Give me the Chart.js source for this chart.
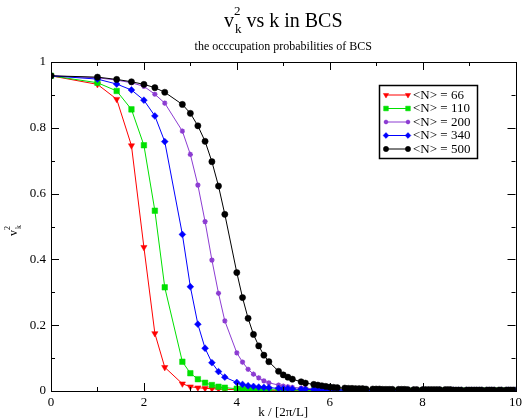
<!DOCTYPE html>
<html>
<head>
<meta charset="utf-8">
<script src="https://cdn.jsdelivr.net/npm/chart.js@4/dist/chart.umd.min.js"></script>
<style>
body{margin:0;background:#fff}
#wrap{width:526px;height:420px}
</style>
</head>
<body>
<div id="wrap"><canvas id="bcs" width="526" height="420"></canvas></div>
<script>
// k values (sqrt of n = nx^2+ny^2+nz^2), in units of 2pi/L
const kValues = [0, 1, 1.414, 1.732, 2, 2.236, 2.449, 2.828, 3, 3.162,
3.317, 3.464, 3.606, 3.742, 4, 4.123, 4.243, 4.359, 4.472, 4.583,
4.690, 4.899, 5, 5.099, 5.196, 5.385, 5.477, 5.657, 5.745, 5.831,
5.916, 6, 6.083, 6.164, 6.325, 6.403, 6.481, 6.557, 6.633, 6.708,
6.782, 6.928, 7, 7.071, 7.141, 7.211, 7.280, 7.348, 7.483, 7.550,
7.616, 7.681, 7.810, 7.874, 8, 8.062, 8.124, 8.185, 8.246, 8.307,
8.367, 8.485, 8.544, 8.602, 8.660, 8.718, 8.775, 8.832, 8.944, 9,
9.055, 9.110, 9.165, 9.220, 9.274, 9.381, 9.434, 9.487, 9.539, 9.644,
9.695, 9.798, 9.849, 9.899, 9.950, 10]

const v2_66 = [0.958, 0.932, 0.887, 0.746, 0.437, 0.175, 0.072, 0.022, 0.013, 0.010,
0.008, 0.007, 0.006, 0.005, 0.004, 0.004, 0.003, 0.003, 0.003, 0.003,
0.002, 0.002, 0.002, 0.002, 0.002, 0.002, 0.002, 0.002, 0.002, 0.001,
0.001, 0.001, 0.001, 0.001, 0.001, 0.001, 0.001, 0.001, 0.001, 0.001,
0.001, 0.001, 0.001, 0.001, 0.001, 0.001, 0.001, 0.001, 0.001, 0.001,
0.001, 0.001, 0.001, 0.001, 0.001, 0.001, 0.001, 0.001, 0.001, 0.001,
0.001, 0.001, 0.001, 0.001, 0.001, 0.001, 0.001, 0.001, 0.001, 0.001,
0.001, 0.001, 0.001, 0.001, 0.001, 0.001, 0.001, 0.001, 0.001, 0.001,
0.001, 0.001, 0.001, 0.001, 0.001, 0.001]

const v2_110 = [0.958, 0.937, 0.912, 0.856, 0.747, 0.548, 0.315, 0.089, 0.054, 0.036,
0.025, 0.018, 0.013, 0.010, 0.007, 0.006, 0.005, 0.005, 0.004, 0.004,
0.004, 0.003, 0.003, 0.003, 0.003, 0.002, 0.002, 0.002, 0.002, 0.002,
0.002, 0.002, 0.002, 0.002, 0.002, 0.002, 0.001, 0.001, 0.001, 0.001,
0.001, 0.001, 0.001, 0.001, 0.001, 0.001, 0.001, 0.001, 0.001, 0.001,
0.001, 0.001, 0.001, 0.001, 0.001, 0.001, 0.001, 0.001, 0.001, 0.001,
0.001, 0.001, 0.001, 0.001, 0.001, 0.001, 0.001, 0.001, 0.001, 0.001,
0.001, 0.001, 0.001, 0.001, 0.001, 0.001, 0.001, 0.001, 0.001, 0.001,
0.001, 0.001, 0.001, 0.001, 0.001, 0.001]

const v2_200 = [0.958, 0.952, 0.945, 0.937, 0.926, 0.902, 0.875, 0.790, 0.719, 0.626,
0.515, 0.398, 0.297, 0.213, 0.116, 0.088, 0.066, 0.051, 0.040, 0.031,
0.025, 0.018, 0.015, 0.013, 0.011, 0.009, 0.008, 0.007, 0.006, 0.006,
0.005, 0.005, 0.005, 0.004, 0.004, 0.004, 0.004, 0.004, 0.003, 0.003,
0.003, 0.003, 0.003, 0.003, 0.003, 0.003, 0.003, 0.003, 0.003, 0.003,
0.003, 0.003, 0.002, 0.002, 0.002, 0.002, 0.002, 0.002, 0.002, 0.002,
0.002, 0.002, 0.002, 0.002, 0.002, 0.002, 0.002, 0.002, 0.002, 0.002,
0.002, 0.002, 0.002, 0.002, 0.002, 0.002, 0.002, 0.002, 0.002, 0.002,
0.002, 0.002, 0.002, 0.002, 0.002, 0.002]

const v2_340 = [0.958, 0.948, 0.933, 0.915, 0.884, 0.836, 0.758, 0.476, 0.317, 0.203,
0.130, 0.086, 0.059, 0.042, 0.026, 0.020, 0.016, 0.014, 0.012, 0.011,
0.010, 0.008, 0.007, 0.007, 0.006, 0.005, 0.005, 0.004, 0.004, 0.004,
0.004, 0.003, 0.003, 0.003, 0.003, 0.003, 0.003, 0.003, 0.003, 0.003,
0.003, 0.003, 0.002, 0.002, 0.002, 0.002, 0.002, 0.002, 0.002, 0.002,
0.002, 0.002, 0.002, 0.002, 0.002, 0.002, 0.002, 0.002, 0.002, 0.002,
0.002, 0.002, 0.002, 0.002, 0.002, 0.002, 0.002, 0.002, 0.002, 0.002,
0.002, 0.002, 0.002, 0.002, 0.002, 0.002, 0.002, 0.002, 0.002, 0.002,
0.002, 0.002, 0.002, 0.002, 0.002, 0.002]

const v2_500 = [0.958, 0.954, 0.947, 0.940, 0.932, 0.922, 0.908, 0.871, 0.844, 0.806,
0.759, 0.697, 0.623, 0.537, 0.360, 0.284, 0.221, 0.172, 0.137, 0.109,
0.089, 0.060, 0.049, 0.042, 0.036, 0.028, 0.024, 0.020, 0.018, 0.016,
0.014, 0.012, 0.011, 0.010, 0.009, 0.008, 0.008, 0.007, 0.007, 0.007,
0.006, 0.006, 0.006, 0.006, 0.005, 0.005, 0.005, 0.005, 0.005, 0.005,
0.005, 0.004, 0.004, 0.004, 0.004, 0.004, 0.004, 0.004, 0.004, 0.004,
0.004, 0.004, 0.004, 0.004, 0.003, 0.003, 0.003, 0.003, 0.003, 0.003,
0.003, 0.003, 0.003, 0.003, 0.003, 0.003, 0.003, 0.003, 0.003, 0.003,
0.003, 0.003, 0.003, 0.003, 0.003, 0.003]

const seriesLabels = ["<N> = 66", "<N> = 110", "<N> = 200", "<N> = 340", "<N> = 500"]
const seriesData = [v2_66, v2_110, v2_200, v2_340, v2_500]
const xTicks = [0, 2, 4, 6, 8, 10]
const yTicks = [0, 0.2, 0.4, 0.6, 0.8, 1]

// styles
const colors = ["#ff0000", "#00e000", "#8c3cd2", "#0000ff", "#000000"]
const shapes = ["triangle", "rect", "star", "rectRot", "circle"]
const rotations = [180, 0, 0, 0, 0]
const radii = [3.6, 3.9, 2.6, 3.4, 3.1]
const borders = [0.5, 0.5, 1.4, 0.5, 0.5]
const serif = "'Liberation Serif', 'DejaVu Serif', serif"

function toPoints(arr){
  return arr.map((v,i)=>({x:kValues[i], y:v}))
}

let datasets = seriesData.map((arr,i)=>({
  label: seriesLabels[i],
  data: toPoints(arr),
  borderColor: colors[i],
  backgroundColor: colors[i],
  borderWidth: 1,
  pointStyle: shapes[i],
  pointRotation: rotations[i],
  pointRadius: radii[i],
  pointBorderWidth: borders[i],
  order: 4 - i
}))

// draw a text with stacked superscript / subscript, returns width
function supSub(ctx, x, y, base, sup, sub, big, small, up, down){
  ctx.font = big + "px " + serif
  ctx.fillText(base, x, y)
  let w = ctx.measureText(base).width
  ctx.font = small + "px " + serif
  ctx.fillText(sup, x + w, y - up)
  ctx.fillText(sub, x + w + 1, y + down)
  let w2 = Math.max(ctx.measureText(sup).width, ctx.measureText(sub).width + 1)
  return w + w2
}

function marker(ctx, i, x, y){
  ctx.fillStyle = colors[i]
  ctx.strokeStyle = colors[i]
  ctx.lineWidth = borders[i]
  if (Chart.helpers && Chart.helpers.drawPoint) {
    Chart.helpers.drawPoint(ctx, {pointStyle: shapes[i], rotation: rotations[i], radius: radii[i] * 0.85, borderWidth: borders[i]}, x, y)
  } else {
    ctx.beginPath(); ctx.arc(x, y, 2.5, 0, Math.PI*2); ctx.fill()
  }
}

const decorations = {
  id: "decorations",
  afterDraw(chart){
    const ctx = chart.ctx
    const a = chart.chartArea
    const xs = chart.scales.x
    const ys = chart.scales.y
    ctx.save()
    ctx.strokeStyle = "#000"
    ctx.lineWidth = 1
    // frame
    ctx.strokeRect(Math.round(a.left)+0.5, Math.round(a.top)+0.5, Math.round(a.right-a.left), Math.round(a.bottom-a.top))
    // inward ticks
    ctx.beginPath()
    for (let k=0; k<=10; k++){
      let px = Math.round(xs.getPixelForValue(k)) + 0.5
      let len = k%2==0 ? 8 : 4
      ctx.moveTo(px, a.bottom); ctx.lineTo(px, a.bottom - len)
      ctx.moveTo(px, a.top); ctx.lineTo(px, a.top + len)
    }
    for (let j=0; j<=10; j++){
      let py = Math.round(ys.getPixelForValue(j/10)) + 0.5
      let len = j%2==0 ? 8 : 4
      ctx.moveTo(a.left, py); ctx.lineTo(a.left + len, py)
      ctx.moveTo(a.right, py); ctx.lineTo(a.right - len, py)
    }
    ctx.stroke()

    // title
    ctx.fillStyle = "#000"
    ctx.textBaseline = "alphabetic"
    ctx.textAlign = "left"
    ctx.font = "20px " + serif
    let wv = ctx.measureText("v").width
    let wrest = ctx.measureText(" vs k in BCS").width
    ctx.font = "13px " + serif
    let wsup = ctx.measureText("k").width + 1
    let total = wv + wsup + wrest
    let cx = (a.left + a.right) / 2
    let tx = cx - total / 2
    let w = supSub(ctx, tx, 27, "v", "2", "k", 20, 13, 12, 6)
    ctx.font = "20px " + serif
    ctx.fillText(" vs k in BCS", tx + w, 27)

    // subtitle
    ctx.textAlign = "center"
    ctx.font = "12px " + serif
    ctx.fillText("the occcupation probabilities of BCS", cx, 50)

    // y axis title
    ctx.save()
    ctx.translate(17, 236)
    ctx.rotate(-Math.PI/2)
    ctx.textAlign = "left"
    supSub(ctx, 0, 0, "v", "2", "k", 12, 8, 7, 4)
    ctx.restore()

    // legend
    const lx = 379.5, ly = 85.5, lw = 98, lh = 73
    ctx.fillStyle = "#fff"
    ctx.fillRect(lx, ly, lw, lh)
    ctx.strokeStyle = "#000"
    ctx.lineWidth = 1.5
    ctx.strokeRect(lx, ly, lw, lh)
    ctx.textAlign = "left"
    ctx.textBaseline = "middle"
    for (let i=0; i<seriesLabels.length; i++){
      let ry = 95 + i * 13.5
      ctx.strokeStyle = colors[i]
      ctx.lineWidth = 1
      ctx.beginPath(); ctx.moveTo(386, ry); ctx.lineTo(408, ry); ctx.stroke()
      marker(ctx, i, 386, ry)
      marker(ctx, i, 408, ry)
      ctx.fillStyle = "#000"
      ctx.font = "13px " + serif
      ctx.fillText(seriesLabels[i], 413, ry + 0.5)
    }
    ctx.restore()
  }
}

new Chart(document.getElementById("bcs"), {
  type: "line",
  data: { datasets: datasets },
  options: {
    responsive: false,
    animation: false,
    layout: { padding: { top: 62, right: 5, left: 0, bottom: 0 } },
    plugins: { legend: { display: false }, title: { display: false }, tooltip: { enabled: false } },
    elements: { line: { tension: 0 } },
    scales: {
      x: {
        type: "linear",
        min: 0, max: 10,
        afterBuildTicks: s => { s.ticks = xTicks.map(v => ({value: v})) },
        afterFit: s => { s.height = 29 },
        grid: { display: false, drawTicks: false },
        border: { display: false },
        ticks: { color: "#000", font: { family: serif, size: 13 }, padding: 4, maxRotation: 0, autoSkip: false,
          callback: v => String(v) },
        title: { display: true, text: "k / [2π/L]", color: "#000", font: { family: serif, size: 13 }, padding: 0 }
      },
      y: {
        type: "linear",
        min: 0, max: 1,
        afterBuildTicks: s => { s.ticks = yTicks.map(v => ({value: v})) },
        afterFit: s => { s.width = 51 },
        grid: { display: false, drawTicks: false },
        border: { display: false },
        ticks: { color: "#000", font: { family: serif, size: 13 }, padding: 5,
          callback: v => String(Math.round(v * 10) / 10) }
      }
    }
  },
  plugins: [decorations]
})
</script>
</body>
</html>
